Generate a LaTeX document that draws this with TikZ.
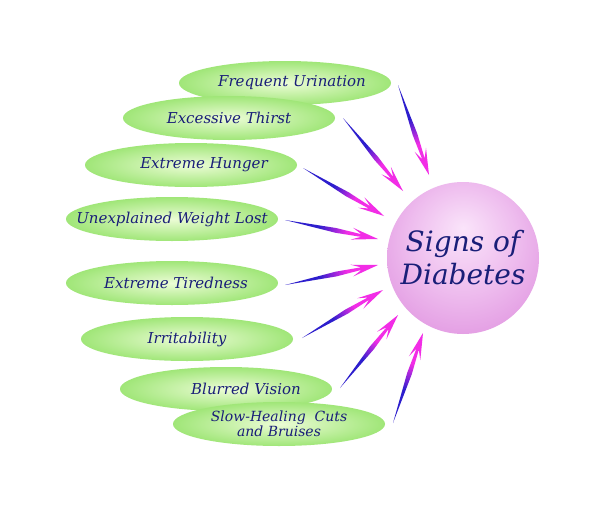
\documentclass[tikz,border=0pt]{standalone}
\usepackage{fontspec}
\setmainfont{DejaVu Serif}
\usepackage{xcolor}
\usepackage{tikz}
\usetikzlibrary{calc,shapes.geometric}

\definecolor{txtblue}{RGB}{25,30,120}
\definecolor{arrblue}{RGB}{45,30,205}
\definecolor{arrmag}{RGB}{242,45,230}
\definecolor{grnin}{RGB}{236,252,214}
\definecolor{grnout}{RGB}{160,230,120}
\definecolor{pinkhi}{RGB}{250,228,250}
\definecolor{pinkmid}{RGB}{238,188,238}
\definecolor{pinkedge}{RGB}{224,148,224}

\pgfdeclareradialshading{diabball}{\pgfpoint{0bp}{10bp}}{%
  color(0bp)=(pinkhi); color(18bp)=(pinkmid); color(34bp)=(pinkedge); color(50bp)=(pinkedge)}
\pgfdeclarehorizontalshading{arrshade}{100bp}{%
  color(0bp)=(arrblue); color(42bp)=(arrblue); color(60bp)=(arrmag); color(100bp)=(arrmag)}

% tapered arrow from coordinate #1 to coordinate #2
\newcommand\sigarrow[2]{%
  \pgfmathanglebetweenpoints{\pgfpointanchor{#1}{center}}{\pgfpointanchor{#2}{center}}%
  \let\sang\pgfmathresult
  \shade[shading=arrshade, shading angle=\sang]
    (#1) -- ($(#1)!0.55!(#2)!2.4pt!90:(#2)$) -- ($(#1)!0.82!(#2)!1.3pt!90:(#2)$)
    -- ($(#1)!0.72!(#2)!6pt!90:(#2)$) -- (#2)
    -- ($(#1)!0.72!(#2)!6pt!-90:(#2)$) -- ($(#1)!0.82!(#2)!1.3pt!-90:(#2)$)
    -- ($(#1)!0.55!(#2)!2.4pt!-90:(#2)$) -- cycle;}

\begin{document}
\begin{tikzpicture}[x=1pt, y=-1pt,
  sign/.style={ellipse, inner xsep=-40pt, inner ysep=0pt, minimum width=212pt, minimum height=44pt,
    inner color=grnin, outer color=grnout, text=txtblue, align=center,
    font=\itshape\fontsize{15}{16}\selectfont},
  hub/.style={circle, inner sep=0pt, minimum size=152pt, shading=diabball,
    text=txtblue, align=center, font=\itshape\fontsize{28}{33}\selectfont}]
\useasboundingbox[fill=white] (0,0) rectangle (600,525);

\node[sign] (uri) at (285,83) {\hspace*{14pt}Frequent Urination};
\node[sign] (thi) at (229,118) {Excessive Thirst};
\node[sign] (hun) at (191,165) {\hspace*{26pt}Extreme Hunger};
\node[sign] (wei) at (172,219) {Unexplained Weight Lost};
\node[sign] (tir) at (172,283) {\hspace*{8pt}Extreme Tiredness};
\node[sign] (irr) at (187,339) {Irritability};
\node[sign] (vis) at (226,389) {\hspace*{40pt}Blurred Vision};
\node[sign, font=\itshape\fontsize{14}{13}\selectfont] (cut) at (279,424) {Slow-Healing~ Cuts\\and Bruises};

\node[hub] (diab) at (463,258) {Signs of\\Diabetes};

\coordinate (a1) at (398,85);  \coordinate (b1) at (429,175);
\coordinate (a2) at (343,118); \coordinate (b2) at (403,191);
\coordinate (a3) at (303,168); \coordinate (b3) at (384,216);
\coordinate (a4) at (285,220); \coordinate (b4) at (378,239);
\coordinate (a5) at (285,285); \coordinate (b5) at (378,265);
\coordinate (a6) at (302,338); \coordinate (b6) at (383,290);
\coordinate (a7) at (340,388); \coordinate (b7) at (398,315);
\coordinate (a8) at (393,423); \coordinate (b8) at (423,333);

\sigarrow{a1}{b1}
\sigarrow{a2}{b2}
\sigarrow{a3}{b3}
\sigarrow{a4}{b4}
\sigarrow{a5}{b5}
\sigarrow{a6}{b6}
\sigarrow{a7}{b7}
\sigarrow{a8}{b8}
\end{tikzpicture}
\end{document}
